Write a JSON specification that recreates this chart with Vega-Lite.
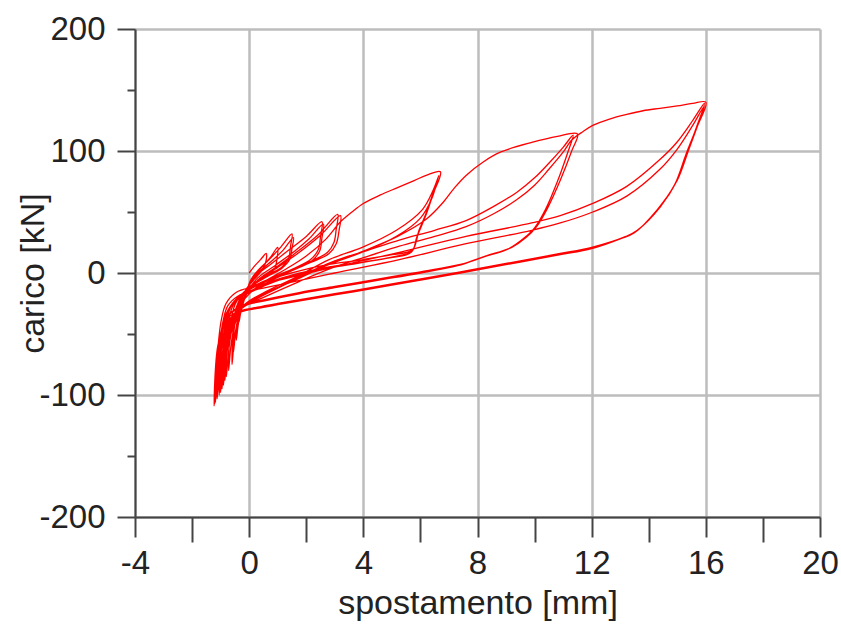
{
"$schema": "https://vega.github.io/schema/vega-lite/v6.json",
"width": 685, "height": 488,
"autosize": {"type": "none"},
"padding": {"left": 135, "top": 29, "right": 21, "bottom": 107},
"background": "white",
"config": {"view": {"stroke": null}},
"data": {"values": [
{"i":1,"x":0,"y":0},{"i":2,"x":0.2,"y":6},{"i":3,"x":0.4,"y":11},{"i":4,"x":0.6,"y":16},{"i":5,"x":0.57,"y":8},{"i":6,"x":0.4,"y":1},{"i":7,"x":0.15,"y":-6},{"i":8,"x":-0.1,"y":-13},{"i":9,"x":-0.25,"y":-22},{"i":10,"x":-0.32,"y":-30},
{"i":11,"x":-0.35,"y":-40},{"i":12,"x":-0.28,"y":-30},{"i":13,"x":-0.18,"y":-21},{"i":14,"x":-0.05,"y":-12},{"i":15,"x":0.15,"y":-3},{"i":16,"x":0.45,"y":5},{"i":17,"x":0.75,"y":13},{"i":18,"x":1.0,"y":21},
{"i":19,"x":0.97,"y":11},{"i":20,"x":0.9,"y":4},{"i":21,"x":0.6,"y":-2},{"i":22,"x":0.25,"y":-8},{"i":23,"x":-0.05,"y":-13},{"i":24,"x":-0.25,"y":-20},{"i":25,"x":-0.38,"y":-30},{"i":26,"x":-0.43,"y":-42},{"i":27,"x":-0.45,"y":-55},
{"i":28,"x":-0.38,"y":-42},{"i":29,"x":-0.28,"y":-31},{"i":30,"x":-0.12,"y":-18},{"i":31,"x":0.05,"y":-6},{"i":32,"x":0.3,"y":2},{"i":33,"x":0.7,"y":11},{"i":34,"x":1.1,"y":21},{"i":35,"x":1.5,"y":32},
{"i":36,"x":1.45,"y":22},{"i":37,"x":1.38,"y":12},{"i":38,"x":1.15,"y":5},{"i":39,"x":0.7,"y":-1},{"i":40,"x":0.25,"y":-7},{"i":41,"x":-0.1,"y":-14},{"i":42,"x":-0.35,"y":-24},{"i":43,"x":-0.5,"y":-40},{"i":44,"x":-0.55,"y":-65},
{"i":45,"x":-0.47,"y":-48},{"i":46,"x":-0.35,"y":-34},{"i":47,"x":-0.15,"y":-20},{"i":48,"x":0.05,"y":-8},{"i":49,"x":0.35,"y":1},{"i":50,"x":0.8,"y":10},{"i":51,"x":1.2,"y":19},{"i":52,"x":1.55,"y":29},
{"i":53,"x":1.5,"y":20},{"i":54,"x":1.42,"y":11},{"i":55,"x":1.15,"y":4},{"i":56,"x":0.7,"y":-2},{"i":57,"x":0.2,"y":-9},{"i":58,"x":-0.2,"y":-17},{"i":59,"x":-0.45,"y":-28},{"i":60,"x":-0.56,"y":-45},{"i":61,"x":-0.6,"y":-75},
{"i":62,"x":-0.52,"y":-55},{"i":63,"x":-0.4,"y":-38},{"i":64,"x":-0.2,"y":-24},{"i":65,"x":0,"y":-10},{"i":66,"x":0.3,"y":-1},{"i":67,"x":0.8,"y":8},{"i":68,"x":1.4,"y":19},{"i":69,"x":2.0,"y":30},{"i":70,"x":2.55,"y":42},
{"i":71,"x":2.5,"y":30},{"i":72,"x":2.42,"y":19},{"i":73,"x":2.15,"y":11},{"i":74,"x":1.6,"y":4},{"i":75,"x":0.9,"y":-3},{"i":76,"x":0.3,"y":-9},{"i":77,"x":-0.2,"y":-16},{"i":78,"x":-0.5,"y":-26},{"i":79,"x":-0.66,"y":-45},{"i":80,"x":-0.72,"y":-80},
{"i":81,"x":-0.63,"y":-58},{"i":82,"x":-0.5,"y":-42},{"i":83,"x":-0.3,"y":-28},{"i":84,"x":-0.05,"y":-15},{"i":85,"x":0.3,"y":-4},{"i":86,"x":0.9,"y":6},{"i":87,"x":1.6,"y":18},{"i":88,"x":2.1,"y":28},{"i":89,"x":2.6,"y":40},
{"i":90,"x":2.55,"y":29},{"i":91,"x":2.47,"y":18},{"i":92,"x":2.2,"y":10},{"i":93,"x":1.6,"y":3},{"i":94,"x":0.9,"y":-4},{"i":95,"x":0.3,"y":-10},{"i":96,"x":-0.2,"y":-17},{"i":97,"x":-0.55,"y":-26},{"i":98,"x":-0.73,"y":-40},{"i":99,"x":-0.78,"y":-58},{"i":100,"x":-0.8,"y":-85},
{"i":101,"x":-0.72,"y":-64},{"i":102,"x":-0.6,"y":-46},{"i":103,"x":-0.38,"y":-31},{"i":104,"x":-0.1,"y":-18},{"i":105,"x":0.3,"y":-6},{"i":106,"x":0.9,"y":4},{"i":107,"x":1.6,"y":16},{"i":108,"x":2.4,"y":31},{"i":109,"x":3.1,"y":48},
{"i":110,"x":3.05,"y":36},{"i":111,"x":2.97,"y":25},{"i":112,"x":2.75,"y":17},{"i":113,"x":2.2,"y":10},{"i":114,"x":1.5,"y":3},{"i":115,"x":0.8,"y":-4},{"i":116,"x":0.2,"y":-11},{"i":117,"x":-0.3,"y":-18},{"i":118,"x":-0.65,"y":-28},{"i":119,"x":-0.8,"y":-45},{"i":120,"x":-0.85,"y":-88},
{"i":121,"x":-0.78,"y":-66},{"i":122,"x":-0.66,"y":-48},{"i":123,"x":-0.45,"y":-32},{"i":124,"x":-0.15,"y":-19},{"i":125,"x":0.3,"y":-7},{"i":126,"x":0.9,"y":3},{"i":127,"x":1.7,"y":16},{"i":128,"x":2.5,"y":31},{"i":129,"x":3.2,"y":47},
{"i":130,"x":3.15,"y":35},{"i":131,"x":3.05,"y":24},{"i":132,"x":2.8,"y":16},{"i":133,"x":2.2,"y":9},{"i":134,"x":1.5,"y":2},{"i":135,"x":0.8,"y":-6},{"i":136,"x":0.2,"y":-13},{"i":137,"x":-0.3,"y":-20},{"i":138,"x":-0.7,"y":-30},{"i":139,"x":-0.85,"y":-50},{"i":140,"x":-0.9,"y":-92},
{"i":141,"x":-0.83,"y":-70},{"i":142,"x":-0.72,"y":-50},{"i":143,"x":-0.5,"y":-34},{"i":144,"x":-0.15,"y":-21},{"i":145,"x":0.4,"y":-9},{"i":146,"x":1.2,"y":2},{"i":147,"x":2.0,"y":14},{"i":148,"x":2.7,"y":28},{"i":149,"x":3.2,"y":42},{"i":150,"x":3.6,"y":50},
{"i":151,"x":4.0,"y":57},{"i":152,"x":4.6,"y":64},{"i":153,"x":5.2,"y":70},{"i":154,"x":5.8,"y":76},{"i":155,"x":6.2,"y":80},{"i":156,"x":6.7,"y":83},
{"i":157,"x":6.45,"y":65},{"i":158,"x":6.2,"y":49},{"i":159,"x":5.95,"y":35},{"i":160,"x":5.72,"y":19},{"i":161,"x":5.0,"y":15},{"i":162,"x":4.0,"y":11},{"i":163,"x":2.8,"y":7},{"i":164,"x":1.8,"y":2},
{"i":165,"x":0.9,"y":-4},{"i":166,"x":0.2,"y":-11},{"i":167,"x":-0.35,"y":-19},{"i":168,"x":-0.75,"y":-31},{"i":169,"x":-0.9,"y":-55},{"i":170,"x":-0.95,"y":-95},{"i":171,"x":-0.88,"y":-72},{"i":172,"x":-0.77,"y":-52},{"i":173,"x":-0.55,"y":-36},{"i":174,"x":-0.12,"y":-25},
{"i":175,"x":0.6,"y":-15},{"i":176,"x":1.6,"y":-4},{"i":177,"x":2.8,"y":11},{"i":178,"x":3.96,"y":21},{"i":179,"x":5.16,"y":35},{"i":180,"x":6.07,"y":52},{"i":181,"x":6.45,"y":68},{"i":182,"x":6.65,"y":80},{"i":183,"x":6.42,"y":63},{"i":184,"x":6.17,"y":46},
{"i":185,"x":5.92,"y":32},{"i":186,"x":5.7,"y":18},{"i":187,"x":5.0,"y":13},{"i":188,"x":4.0,"y":9},{"i":189,"x":2.8,"y":5},{"i":190,"x":1.8,"y":0},{"i":191,"x":0.9,"y":-6},{"i":192,"x":0.2,"y":-13},{"i":193,"x":-0.35,"y":-20},{"i":194,"x":-0.8,"y":-33},
{"i":195,"x":-0.96,"y":-58},{"i":196,"x":-1.0,"y":-98},{"i":197,"x":-0.93,"y":-75},{"i":198,"x":-0.82,"y":-54},{"i":199,"x":-0.58,"y":-37},{"i":200,"x":-0.15,"y":-26},{"i":201,"x":0.6,"y":-16},{"i":202,"x":1.6,"y":-6},{"i":203,"x":2.8,"y":7},{"i":204,"x":3.96,"y":17},
{"i":205,"x":5.16,"y":30},{"i":206,"x":6.0,"y":45},{"i":207,"x":6.4,"y":61},{"i":208,"x":6.6,"y":77},{"i":209,"x":6.38,"y":61},{"i":210,"x":6.12,"y":44},{"i":211,"x":5.88,"y":30},{"i":212,"x":5.68,"y":17},{"i":213,"x":4.8,"y":12},{"i":214,"x":3.8,"y":8},
{"i":215,"x":2.8,"y":4},{"i":216,"x":1.8,"y":-1},{"i":217,"x":0.9,"y":-7},{"i":218,"x":0.2,"y":-14},{"i":219,"x":-0.35,"y":-21},{"i":220,"x":-0.82,"y":-34},{"i":221,"x":-1.0,"y":-60},{"i":222,"x":-1.05,"y":-100},{"i":223,"x":-0.98,"y":-77},{"i":224,"x":-0.87,"y":-55},
{"i":225,"x":-0.62,"y":-38},{"i":226,"x":-0.15,"y":-27},{"i":227,"x":0.7,"y":-16},{"i":228,"x":1.75,"y":-4},{"i":229,"x":2.8,"y":7},{"i":230,"x":4.0,"y":18},{"i":231,"x":5.2,"y":30},{"i":232,"x":6.2,"y":44},{"i":233,"x":6.8,"y":58},{"i":234,"x":7.2,"y":70},
{"i":235,"x":7.6,"y":80},{"i":236,"x":8.2,"y":91},{"i":237,"x":8.8,"y":99},{"i":238,"x":9.9,"y":107},{"i":239,"x":10.8,"y":112},{"i":240,"x":11.5,"y":114},{"i":241,"x":11.3,"y":100},{"i":242,"x":10.9,"y":76},{"i":243,"x":10.45,"y":53},{"i":244,"x":10.07,"y":38},
{"i":245,"x":9.7,"y":29},{"i":246,"x":9.2,"y":21},{"i":247,"x":8.3,"y":14},{"i":248,"x":7.4,"y":7},{"i":249,"x":6.0,"y":1},{"i":250,"x":4.5,"y":-5},{"i":251,"x":3.0,"y":-11},{"i":252,"x":1.75,"y":-16},{"i":253,"x":0.5,"y":-22},{"i":254,"x":-0.2,"y":-26},
{"i":255,"x":-0.7,"y":-34},{"i":256,"x":-1.05,"y":-58},{"i":257,"x":-1.12,"y":-103},{"i":258,"x":-1.05,"y":-80},{"i":259,"x":-0.93,"y":-57},{"i":260,"x":-0.68,"y":-39},{"i":261,"x":-0.2,"y":-27},{"i":262,"x":0.6,"y":-17},{"i":263,"x":1.75,"y":-3},{"i":264,"x":3.0,"y":10},
{"i":265,"x":4.2,"y":19},{"i":266,"x":5.26,"y":27},{"i":267,"x":6.5,"y":35},{"i":268,"x":7.6,"y":43},{"i":269,"x":8.6,"y":55},{"i":270,"x":9.37,"y":66},{"i":271,"x":10.0,"y":78},{"i":272,"x":10.5,"y":90},{"i":273,"x":11.0,"y":103},{"i":274,"x":11.35,"y":113},
{"i":275,"x":11.15,"y":98},{"i":276,"x":10.8,"y":75},{"i":277,"x":10.38,"y":52},{"i":278,"x":10.0,"y":37},{"i":279,"x":9.6,"y":28},{"i":280,"x":9.1,"y":20},{"i":281,"x":8.2,"y":13},{"i":282,"x":7.3,"y":6},{"i":283,"x":6.0,"y":0},{"i":284,"x":4.5,"y":-6},
{"i":285,"x":3.0,"y":-12},{"i":286,"x":1.75,"y":-17},{"i":287,"x":0.5,"y":-23},{"i":288,"x":-0.2,"y":-27},{"i":289,"x":-0.72,"y":-35},{"i":290,"x":-1.1,"y":-60},{"i":291,"x":-1.18,"y":-106},{"i":292,"x":-1.1,"y":-82},{"i":293,"x":-0.98,"y":-58},{"i":294,"x":-0.72,"y":-40},
{"i":295,"x":-0.2,"y":-28},{"i":296,"x":0.6,"y":-19},{"i":297,"x":1.75,"y":-7},{"i":298,"x":3.0,"y":5},{"i":299,"x":4.2,"y":14},{"i":300,"x":5.26,"y":22},{"i":301,"x":6.5,"y":30},{"i":302,"x":7.6,"y":38},{"i":303,"x":8.6,"y":49},{"i":304,"x":9.37,"y":60},
{"i":305,"x":10.0,"y":72},{"i":306,"x":10.5,"y":85},{"i":307,"x":11.0,"y":99},{"i":308,"x":11.3,"y":109},{"i":309,"x":11.7,"y":116},{"i":310,"x":12.04,"y":121},{"i":311,"x":12.6,"y":126},{"i":312,"x":13.23,"y":130},{"i":313,"x":13.8,"y":133},{"i":314,"x":14.39,"y":135},
{"i":315,"x":15.0,"y":137},{"i":316,"x":15.54,"y":139},{"i":317,"x":16.0,"y":140},{"i":318,"x":15.7,"y":120},{"i":319,"x":15.4,"y":101},{"i":320,"x":15.0,"y":76},{"i":321,"x":14.4,"y":54},{"i":322,"x":13.6,"y":35},{"i":323,"x":13.2,"y":30},{"i":324,"x":12.0,"y":21},
{"i":325,"x":10.9,"y":16},{"i":326,"x":9.5,"y":10},{"i":327,"x":7.4,"y":1},{"i":328,"x":5.0,"y":-9},{"i":329,"x":3.0,"y":-17},{"i":330,"x":1.0,"y":-25},{"i":331,"x":0.3,"y":-28},{"i":332,"x":-0.3,"y":-31},{"i":333,"x":-0.8,"y":-38},{"i":334,"x":-1.1,"y":-60},
{"i":335,"x":-1.23,"y":-109},{"i":336,"x":-1.16,"y":-88},{"i":337,"x":-1.12,"y":-69},{"i":338,"x":-0.98,"y":-39},{"i":339,"x":-0.81,"y":-25},{"i":340,"x":-0.46,"y":-16},{"i":341,"x":0.2,"y":-11},{"i":342,"x":1.2,"y":-5},{"i":343,"x":3.0,"y":5},{"i":344,"x":5.26,"y":17},
{"i":345,"x":7.6,"y":30},{"i":346,"x":9.9,"y":41},{"i":347,"x":10.9,"y":47},{"i":348,"x":12.04,"y":57},{"i":349,"x":13.23,"y":71},{"i":350,"x":14.39,"y":93},{"i":351,"x":14.98,"y":107},{"i":352,"x":15.54,"y":125},{"i":353,"x":15.95,"y":139},{"i":354,"x":15.65,"y":118},
{"i":355,"x":15.35,"y":99},{"i":356,"x":14.95,"y":74},{"i":357,"x":14.35,"y":53},{"i":358,"x":13.55,"y":34},{"i":359,"x":13.1,"y":29},{"i":360,"x":12.0,"y":20},{"i":361,"x":10.9,"y":15},{"i":362,"x":9.5,"y":9},{"i":363,"x":7.4,"y":0},{"i":364,"x":5.0,"y":-10},
{"i":365,"x":3.0,"y":-18},{"i":366,"x":1.0,"y":-26},{"i":367,"x":0.3,"y":-29},{"i":368,"x":-0.3,"y":-32},{"i":369,"x":-0.8,"y":-40},{"i":370,"x":-1.12,"y":-65},{"i":371,"x":-1.2,"y":-107},{"i":372,"x":-1.13,"y":-85},{"i":373,"x":-1.05,"y":-62},{"i":374,"x":-0.92,"y":-40},
{"i":375,"x":-0.75,"y":-27},{"i":376,"x":-0.4,"y":-19},{"i":377,"x":0.2,"y":-14},{"i":378,"x":1.2,"y":-9},{"i":379,"x":3.0,"y":0},{"i":380,"x":5.26,"y":11},{"i":381,"x":7.6,"y":24},{"i":382,"x":9.9,"y":35},{"i":383,"x":10.9,"y":41},{"i":384,"x":12.04,"y":50},
{"i":385,"x":13.23,"y":63},{"i":386,"x":14.39,"y":85},{"i":387,"x":14.98,"y":101},{"i":388,"x":15.54,"y":121},{"i":389,"x":15.95,"y":137},{"i":390,"x":15.62,"y":116},{"i":391,"x":15.3,"y":97},{"i":392,"x":14.9,"y":72},{"i":393,"x":14.3,"y":52},{"i":394,"x":13.5,"y":33},
{"i":395,"x":13.0,"y":28},{"i":396,"x":12.0,"y":20},{"i":397,"x":10.9,"y":15},{"i":398,"x":9.5,"y":9},{"i":399,"x":7.4,"y":0},{"i":400,"x":5.0,"y":-10},{"i":401,"x":3.0,"y":-18},{"i":402,"x":1.0,"y":-26},{"i":403,"x":0.3,"y":-29}
]},
"mark": {"type": "line", "color": "#ff0000", "strokeWidth": 1.3, "interpolate": "catmull-rom"},
"encoding": {
  "order": {"field": "i", "type": "quantitative"},
  "x": {"field": "x", "type": "quantitative",
    "scale": {"domain": [-4, 20], "nice": false, "zero": false},
    "axis": {
      "values": [-4,-2,0,2,4,6,8,10,12,14,16,18,20],
      "labelExpr": "datum.value % 4 === 0 ? toString(datum.value) : ''",
      "title": "spostamento [mm]",
      "grid": true,
      "gridColor": {"condition": {"test": "datum.value % 4 === 0", "value": "#bdbdbd"}, "value": "transparent"},
      "gridWidth": 2.5,
      "domainColor": "#444444", "domainWidth": 2,
      "tickColor": "#444444", "tickWidth": 2,
      "tickSize": {"condition": {"test": "datum.value % 4 === 0", "value": 20}, "value": 25},
      "labelFont": "Liberation Sans", "labelFontSize": 33, "labelColor": "#222222",
      "labelPadding": 10, "labelOverlap": false, "labelFlush": false,
      "titleFont": "Liberation Sans", "titleFontSize": 34, "titleFontWeight": "normal", "titleColor": "#222222",
      "titleBaseline": "alphabetic", "titleY": 96
    }},
  "y": {"field": "y", "type": "quantitative",
    "scale": {"domain": [-200, 200], "nice": false, "zero": false},
    "axis": {
      "values": [-200,-150,-100,-50,0,50,100,150,200],
      "labelExpr": "datum.value % 100 === 0 ? toString(datum.value) : ''",
      "title": "carico [kN]",
      "grid": true,
      "gridColor": {"condition": {"test": "datum.value % 100 === 0", "value": "#bdbdbd"}, "value": "transparent"},
      "gridWidth": 2.5,
      "domainColor": "#444444", "domainWidth": 2,
      "tickColor": "#444444", "tickWidth": 2,
      "tickSize": {"condition": {"test": "datum.value % 100 === 0", "value": 18}, "value": 8},
      "labelFont": "Liberation Sans", "labelFontSize": 33, "labelColor": "#222222",
      "labelPadding": 12, "labelOverlap": false, "labelFlush": false, "labelBaseline": "middle",
      "titleFont": "Liberation Sans", "titleFontSize": 34, "titleFontWeight": "normal", "titleColor": "#222222",
      "titleAngle": -90, "titleX": -102, "titleY": 244, "titleBaseline": "middle", "titleAlign": "center"
    }}
}
}
